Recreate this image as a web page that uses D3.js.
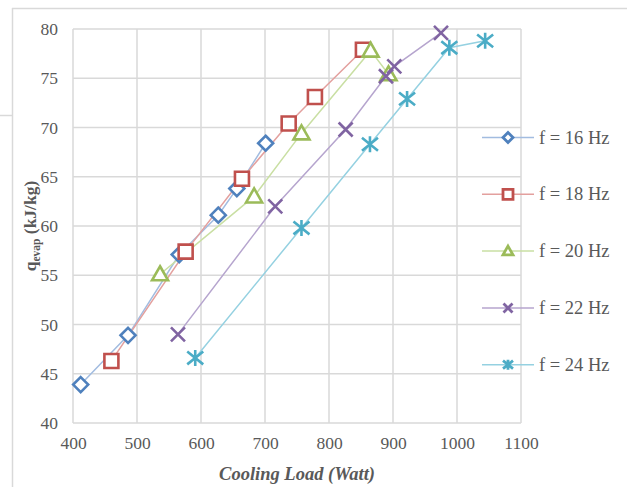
<!DOCTYPE html>
<html>
<head>
<meta charset="utf-8">
<script src="https://cdn.jsdelivr.net/npm/d3@7"></script>
<style>
body { margin: 0; background: #fff; }
svg { display: block; font-family: "Liberation Serif", "Times New Roman", serif; }
</style>
</head>
<body>
<svg id="mysvg" width="627" height="487"></svg>
<script>
// data
let xTicks = [400, 500, 600, 700, 800, 900, 1000, 1100];
let yTicks = [40, 45, 50, 55, 60, 65, 70, 75, 80];
let seriesNames = ["f = 16 Hz", "f = 18 Hz", "f = 20 Hz", "f = 22 Hz", "f = 24 Hz"];
let load16 = [412, 486, 566, 627, 656, 701];
let q16 = [43.9, 48.9, 57.1, 61.1, 63.8, 68.4];
let load18 = [460, 576, 664, 737, 778, 853];
let q18 = [46.3, 57.4, 64.8, 70.4, 73.1, 77.9];
let load20 = [536, 683, 757, 865, 893];
let q20 = [55.1, 63.0, 69.4, 77.8, 75.4];
let load22 = [564, 716, 826, 889, 902, 975];
let q22 = [49.0, 62.0, 69.8, 75.2, 76.2, 79.6];
let load24 = [591, 757, 864, 922, 988, 1044];
let q24 = [46.6, 59.8, 68.3, 72.9, 78.1, 78.8];

let markColors = ["#4F81BD", "#C0504D", "#9BBB59", "#8064A2", "#4BACC6"];
let lineColors = ["#A2BCE0", "#E3A09E", "#C9DFA3", "#B6A5CE", "#95D1E1"];
let shapes = ["diamond", "square", "triangle", "cross", "star"];
let serif = "Liberation Serif, Times New Roman, serif";

let series = [
    {x: load16, y: q16},
    {x: load18, y: q18},
    {x: load20, y: q20},
    {x: load22, y: q22},
    {x: load24, y: q24}
].map(function(s, i){
    return {name: seriesNames[i], color: markColors[i], line: lineColors[i], shape: shapes[i],
            pts: s.x.map(function(v, j){ return [v, s.y[j]]; })};
});

let svg = d3.select('#mysvg');

// outer frame bits
svg.append("line").attr("x1", 12.5).attr("x2", 12.5).attr("y1", 8).attr("y2", 487)
    .attr("stroke", "#D9D9D9").attr("stroke-width", 1.5);
svg.append("line").attr("x1", 12).attr("x2", 627).attr("y1", 8.5).attr("y2", 8.5)
    .attr("stroke", "#D9D9D9").attr("stroke-width", 1.5);
svg.append("line").attr("x1", 0).attr("x2", 12).attr("y1", 115.5).attr("y2", 115.5)
    .attr("stroke", "#D9D9D9").attr("stroke-width", 1.5);

let x = d3.scaleLinear().domain([400, 1100]).range([73, 521]);
let y = d3.scaleLinear().domain([40, 80]).range([423, 29]);

// gridlines
let grid = svg.append("g");
grid.selectAll("line.v").data(xTicks).enter().append("line")
    .attr("class", "v")
    .attr("x1", d => x(d)).attr("x2", d => x(d))
    .attr("y1", y(80)).attr("y2", y(40))
    .attr("stroke", "#D9D9D9").attr("stroke-width", 1.5);
grid.selectAll("line.h").data(yTicks).enter().append("line")
    .attr("class", "h")
    .attr("x1", x(400)).attr("x2", x(1100))
    .attr("y1", d => y(d)).attr("y2", d => y(d))
    .attr("stroke", "#D9D9D9").attr("stroke-width", 1.5);

// axes (labels only, Excel style)
let xAxis = svg.append("g").attr("transform", "translate(0," + y(40) + ")")
    .call(d3.axisBottom(x).tickValues(xTicks).tickFormat(d3.format("d")).tickSize(0).tickPadding(14));
let yAxis = svg.append("g").attr("transform", "translate(" + x(400) + ",0)")
    .call(d3.axisLeft(y).tickValues(yTicks).tickFormat(d3.format("d")).tickSize(0).tickPadding(15));
[xAxis, yAxis].forEach(function(a){
    a.attr("font-family", serif).attr("font-size", 17.5);
    a.select(".domain").remove();
    a.selectAll("text").attr("fill", "#595959");
});

// axis titles
svg.append("text")
    .attr("x", 297).attr("y", 480)
    .attr("text-anchor", "middle")
    .attr("font-family", serif)
    .attr("font-size", 18.5).attr("font-weight", "bold").attr("font-style", "italic")
    .attr("fill", "#595959")
    .text("Cooling Load (Watt)");

let yt = svg.append("text")
    .attr("transform", "translate(36,226) rotate(-90)")
    .attr("text-anchor", "middle")
    .attr("font-family", serif)
    .attr("font-size", 17.5).attr("font-weight", "bold")
    .attr("fill", "#595959");
yt.append("tspan").text("q");
yt.append("tspan").attr("font-size", 11.5).attr("dy", 4).text("evap");
yt.append("tspan").attr("dy", -4).text(" (kJ/kg)");

function markerPath(shape, r)
{
    if (shape == "diamond")
        return "M0," + (-r) + "L" + r + ",0L0," + r + "L" + (-r) + ",0Z";
    if (shape == "square")
        return "M" + (-r) + "," + (-r) + "H" + r + "V" + r + "H" + (-r) + "Z";
    if (shape == "triangle")
        return "M0," + (-r) + "L" + r + "," + (r * 0.75) + "L" + (-r) + "," + (r * 0.75) + "Z";
    if (shape == "cross")
        return "M" + (-r) + "," + (-r) + "L" + r + "," + r + "M" + r + "," + (-r) + "L" + (-r) + "," + r;
    // star = cross plus vertical bar
    return "M" + (-r) + "," + (-r * 0.8) + "L" + r + "," + (r * 0.8) + "M" + r + "," + (-r * 0.8) + "L" + (-r) + "," + (r * 0.8)
        + "M0," + (-r) + "V" + r;
}

let markSize = {diamond: 7.5, square: 7, triangle: 8, cross: 7, star: 8};
let legSize = {diamond: 5, square: 5, triangle: 5, cross: 4.5, star: 5};

let line = d3.line().x(d => x(d[0])).y(d => y(d[1]));

// lines first, then markers on top
svg.selectAll("path.ser").data(series).enter().append("path")
    .attr("class", "ser")
    .attr("d", d => line(d.pts))
    .attr("fill", "none")
    .attr("stroke", d => d.line)
    .attr("stroke-width", 1.5);

series.forEach(function(s){
    svg.append("g").selectAll("path").data(s.pts).enter().append("path")
        .attr("transform", d => "translate(" + x(d[0]) + "," + y(d[1]) + ")")
        .attr("d", markerPath(s.shape, markSize[s.shape]))
        .attr("fill", (s.shape == "cross" || s.shape == "star") ? "none" : "white")
        .attr("stroke", s.color)
        .attr("stroke-width", 2.6);
});

// legend
let leg = svg.selectAll("g.leg").data(series).enter().append("g")
    .attr("class", "leg")
    .attr("transform", (d, i) => "translate(482," + (137.5 + i * 56.8) + ")");
leg.append("line").attr("x1", 0).attr("x2", 52).attr("y1", 0).attr("y2", 0)
    .attr("stroke", d => d.line).attr("stroke-width", 1.5);
leg.append("path")
    .attr("transform", "translate(26,0)")
    .attr("d", d => markerPath(d.shape, legSize[d.shape]))
    .attr("fill", d => (d.shape == "cross" || d.shape == "star") ? "none" : "white")
    .attr("stroke", d => d.color)
    .attr("stroke-width", 2.8);
leg.append("text")
    .attr("x", 57).attr("dy", 6)
    .attr("font-family", serif)
    .attr("font-size", 18.5)
    .attr("fill", "#595959")
    .text(d => d.name);
</script>
</body>
</html>
